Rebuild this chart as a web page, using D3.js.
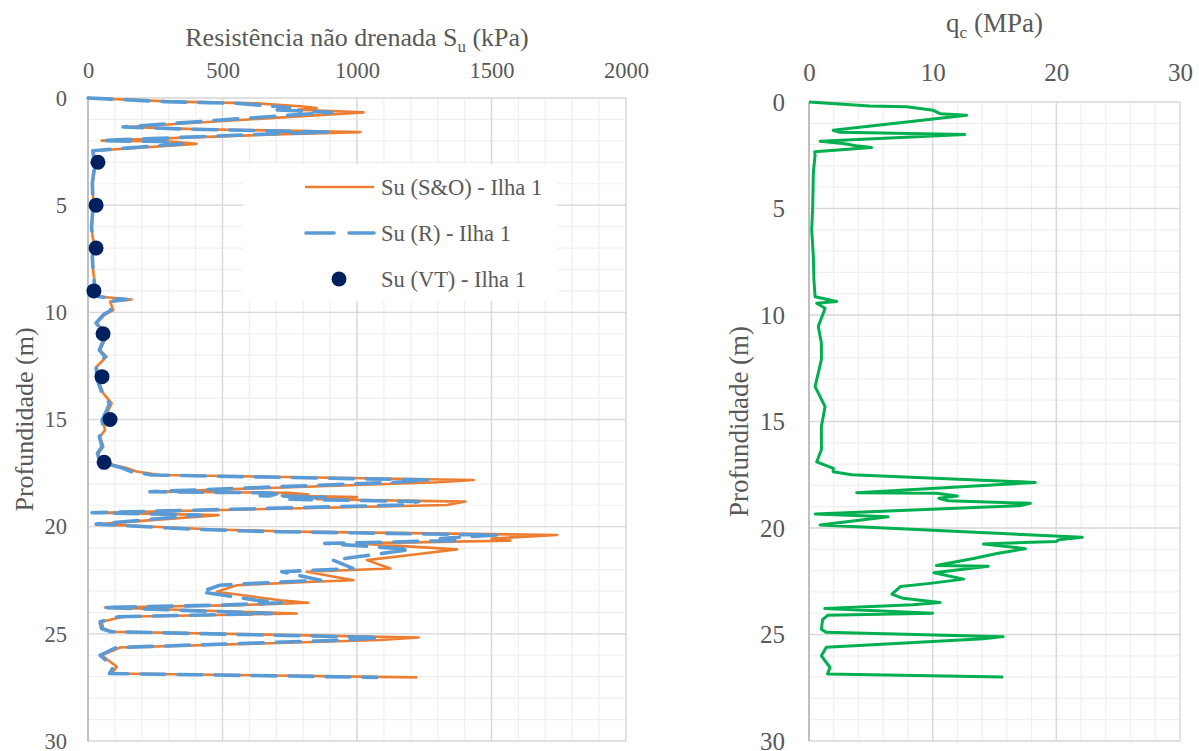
<!DOCTYPE html>
<html>
<head>
<meta charset="utf-8">
<script src="https://cdn.jsdelivr.net/npm/d3@7"></script>
<style>
body { margin: 0; background: #fff; }
svg { display: block; font-family: "Liberation Serif", "Times New Roman", serif; }
</style>
</head>
<body>
<svg id="chart" width="1199" height="751"></svg>
<script>
// depth (m) and undrained strength (kPa), CPT Ilha 1
var suDepth = [0, 0.17, 0.25, 0.40, 0.47, 0.55, 0.67, 1.35, 1.45, 1.59, 1.70, 1.99, 2.03, 2.14, 2.46, 2.66, 3.2, 3.98, 5.07, 6.0,
    6.47, 6.94, 7.4, 8.18, 8.65, 8.96, 9.27, 9.4, 9.5, 9.9, 10.1, 10.5, 10.83, 11.29, 11.76, 12.07, 12.54, 13.16, 13.78, 14.25,
    14.56, 15.03, 15.49, 15.8, 16.27, 16.58, 16.89, 17.12, 17.25, 17.43, 17.59, 17.82, 17.93, 18.37, 18.42, 18.5, 18.55, 18.62, 18.72, 18.83,
    18.99, 19.35, 19.46, 19.88, 20.13, 20.23, 20.39, 20.55, 20.65, 20.78, 21.06, 21.32, 21.56, 21.95, 22.1, 22.5, 22.57, 22.73, 23.04, 23.43,
    23.55, 23.66, 23.77, 24.05, 24.2, 24.44, 24.75, 24.9, 25.17, 25.29, 25.64, 26.0, 26.54, 26.85, 27.03];
var suSO = [0, 317, 628, 800, 850, 780, 1024, 144, 400, 1012, 700, 51, 305, 404, 20, 22, 26, 17, 20, 14,
    17, 26, 17, 20, 26, 20, 45, 162, 82, 94, 63, 32, 57, 63, 45, 69, 32, 38, 57, 88,
    76, 57, 63, 45, 57, 38, 45, 94, 140, 181, 268, 1434, 1300, 255, 750, 820, 720, 1000, 850, 1403,
    1334, 40, 485, 38, 466, 764, 1744, 1500, 1570, 1000, 1372, 1198, 1037, 1124, 813, 987, 838, 553, 479, 714,
    820, 565, 63, 776, 131, 51, 57, 94, 1229, 1086, 119, 51, 107, 88, 1223];
var suR = [0, 290, 560, 700, 750, 690, 905, 130, 360, 893, 620, 45, 270, 350, 18, 20, 24, 16, 19, 13,
    16, 24, 16, 19, 24, 19, 42, 145, 75, 85, 58, 30, 52, 58, 42, 63, 30, 35, 52, 80,
    70, 52, 58, 42, 52, 35, 42, 86, 125, 160, 236, 1266, 1140, 230, 660, 720, 640, 880, 750, 1230,
    1170, 15, 417, 30, 410, 670, 1520, 1310, 1370, 880, 1200, 1050, 910, 985, 720, 865, 735, 490, 420, 625,
    720, 500, 55, 683, 115, 45, 50, 85, 1086, 955, 105, 45, 95, 80, 1074];
var vtDepth = [3, 5, 7, 9, 11, 13, 15, 17];
var vtSu = [37, 30, 30, 22, 56, 52, 82, 60];

// cone resistance qc (MPa)
var qcDepth = [0, 0.19, 0.22, 0.39, 0.55, 0.62, 1.33, 1.42, 1.53, 1.84, 1.95, 2.05, 2.14, 2.34, 2.48, 3.34, 4.91, 6.0, 7.26, 8.35,
    9.14, 9.37, 9.45, 9.68, 10.54, 11.3, 12.1, 13.36, 14.3, 15.24, 16.33, 16.9, 17.2, 17.36, 17.5, 17.86, 17.93, 18.34, 18.37, 18.5,
    18.6, 18.72, 18.84, 18.95, 19.34, 19.47, 19.86, 20.1, 20.44, 20.55, 20.63, 20.75, 20.97, 21.2, 21.43, 21.76, 21.8, 22.1, 22.4, 22.6,
    22.75, 23.1, 23.3, 23.5, 23.6, 23.78, 24.0, 24.1, 24.3, 24.75, 24.9, 25.1, 25.2, 25.6, 26.0, 26.55, 26.85, 27.0];
var qcValue = [0, 4.9, 7.9, 10.05, 10.6, 12.75, 1.95, 2.5, 12.6, 0.9, 2.75, 3.8, 5.05, 0.46, 0.49, 0.35, 0.3, 0.22, 0.35, 0.4,
    0.49, 2.24, 0.62, 1.3, 0.75, 1.0, 1.0, 0.49, 1.3, 1.0, 1.0, 0.62, 1.97, 1.95, 3.45, 18.3, 16.25, 3.85, 10.3, 12.0,
    10.5, 11.25, 17.9, 17.1, 0.5, 6.4, 0.9, 10.0, 22.1, 20.2, 20.0, 14.1, 17.5, 15.2, 13.3, 10.3, 14.5, 10.1, 12.5, 9.8,
    7.4, 6.7, 7.6, 10.6, 8.4, 1.27, 10.0, 1.5, 1.1, 1.0, 1.4, 15.7, 14.1, 1.4, 1.0, 1.7, 1.5, 15.7];

var suTicks = [0, 500, 1000, 1500, 2000];
var qcTicks = [0, 10, 20, 30];
var depthTicks = [0, 5, 10, 15, 20, 25, 30];
var legendNames = ['Su (S&O) - Ilha 1', 'Su (R) - Ilha 1', 'Su (VT) - Ilha 1'];

var textColor = '#595959';
var serif = '"Liberation Serif", "Times New Roman", serif';
var svg = d3.select('#chart');

function panel(o) {
    var x = d3.scaleLinear().domain([0, o.xTicks[o.xTicks.length - 1]]).range([o.left, o.right]);
    var y = d3.scaleLinear().domain([0, 30]).range([o.top, o.bottom]);
    var g = svg.append('g');

    // minor grid
    g.selectAll('.vmin').data(d3.range(0, x.domain()[1] + 1e-9, o.xMinor)).enter().append('line')
        .attr('x1', x).attr('x2', x).attr('y1', o.top).attr('y2', o.bottom)
        .attr('stroke', '#efefef').attr('stroke-width', 1.2);
    g.selectAll('.hmin').data(d3.range(0, 30.001, 1)).enter().append('line')
        .attr('y1', y).attr('y2', y).attr('x1', o.left).attr('x2', o.right)
        .attr('stroke', '#efefef').attr('stroke-width', 1.2);
    // major grid
    g.selectAll('.vmaj').data(o.xTicks).enter().append('line')
        .attr('x1', x).attr('x2', x).attr('y1', o.top).attr('y2', o.bottom)
        .attr('stroke', '#d9d9d9').attr('stroke-width', 1.4);
    g.selectAll('.hmaj').data(depthTicks).enter().append('line')
        .attr('y1', y).attr('y2', y).attr('x1', o.left).attr('x2', o.right)
        .attr('stroke', '#d9d9d9').attr('stroke-width', 1.4);
    g.append('line').attr('x1', o.left).attr('x2', o.left).attr('y1', o.top).attr('y2', o.bottom)
        .attr('stroke', '#bfbfbf').attr('stroke-width', 2);

    var xa = g.append('g').attr('transform', 'translate(0,' + o.top + ')')
        .call(d3.axisTop(x).tickValues(o.xTicks).tickFormat(d3.format('d')).tickSize(0).tickPadding(o.xPad));
    var ya = g.append('g').attr('transform', 'translate(' + o.left + ',0)')
        .call(d3.axisLeft(y).tickValues(depthTicks).tickFormat(d3.format('d')).tickSize(0).tickPadding(o.yPad));
    [xa, ya].forEach(function(a) {
        a.attr('font-family', serif);
        a.select('.domain').remove();
        a.selectAll('text').attr('fill', textColor).style('font-size', o.tickSize + 'px')
            .attr('font-family', serif);
    });

    var t = g.append('text').attr('x', (o.left + o.right) / 2).attr('y', o.titleY)
        .attr('text-anchor', 'middle').attr('fill', textColor).attr('font-family', serif)
        .style('font-size', o.titleSize + 'px');
    t.append('tspan').text(o.title[0]);
    t.append('tspan').text(o.title[1]).style('font-size', (o.titleSize * 0.65) + 'px').attr('dy', 6);
    t.append('tspan').text(o.title[2]).attr('dy', -6);

    g.append('text').attr('transform', 'translate(' + o.yTitleX + ',' + (o.top + o.bottom) / 2 + ') rotate(-90)')
        .attr('text-anchor', 'middle').attr('fill', textColor).attr('font-family', serif)
        .style('font-size', o.titleSize + 'px')
        .text('Profundidade (m)');
    return { g: g, x: x, y: y };
}

// left panel: Su
var L = panel({ left: 88, right: 626, top: 98, bottom: 741, xTicks: suTicks, xMinor: 100,
    xPad: 20, yPad: 21, tickSize: 22.5, titleSize: 26, titleY: 46, yTitleX: 33,
    title: ['Resistência não drenada S', 'u', ' (kPa)'] });

var suLine = function(vals) {
    return d3.line().x(function(d, i) { return L.x(vals[i]); }).y(function(d) { return L.y(d); })(suDepth);
};
L.g.append('path').attr('d', suLine(suSO)).attr('fill', 'none')
    .attr('stroke', '#ED7D31').attr('stroke-width', 2.6).attr('stroke-linejoin', 'round');
L.g.append('path').attr('d', suLine(suR)).attr('fill', 'none')
    .attr('stroke', '#5B9BD5').attr('stroke-width', 3.6).attr('stroke-linejoin', 'round')
    .attr('stroke-linecap', 'round').attr('stroke-dasharray', '24,13');
L.g.selectAll('.vt').data(vtDepth).enter().append('circle')
    .attr('cx', function(d, i) { return L.x(vtSu[i]); }).attr('cy', L.y).attr('r', 7.5)
    .attr('fill', '#002060');

// legend
var lg = L.g.append('g');
lg.append('rect').attr('x', 243).attr('y', 164).attr('width', 314).attr('height', 137).attr('fill', '#fff');
var rowY = [187, 233, 279];
lg.append('line').attr('x1', 305).attr('x2', 374).attr('y1', rowY[0]).attr('y2', rowY[0])
    .attr('stroke', '#ED7D31').attr('stroke-width', 2.6);
lg.append('line').attr('x1', 306).attr('x2', 374).attr('y1', rowY[1]).attr('y2', rowY[1])
    .attr('stroke', '#5B9BD5').attr('stroke-width', 3.6).attr('stroke-linecap', 'round').attr('stroke-dasharray', '28,15');
lg.append('circle').attr('cx', 339).attr('cy', rowY[2]).attr('r', 7.5).attr('fill', '#002060');
lg.selectAll('.lt').data(legendNames).enter().append('text')
    .attr('x', 381).attr('y', function(d, i) { return rowY[i] + 8; })
    .attr('fill', textColor).attr('font-family', serif).style('font-size', '22.5px')
    .text(function(d) { return d; });

// right panel: qc
var R = panel({ left: 809, right: 1180, top: 102, bottom: 741, xTicks: qcTicks, xMinor: 2,
    xPad: 21, yPad: 24, tickSize: 25, titleSize: 27, titleY: 32, yTitleX: 748,
    title: ['q', 'c', ' (MPa)'] });
R.g.append('path')
    .attr('d', d3.line().x(function(d, i) { return R.x(qcValue[i]); }).y(function(d) { return R.y(d); })(qcDepth))
    .attr('fill', 'none').attr('stroke', '#00B050').attr('stroke-width', 3).attr('stroke-linejoin', 'round');
</script>
</body>
</html>
